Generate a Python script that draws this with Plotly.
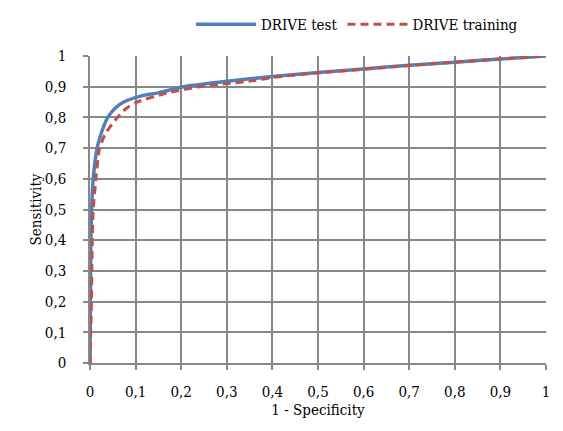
import plotly.graph_objects as go

# DRIVE test ROC curve (1 - specificity, sensitivity)
test_fpr = [0.0, 0.001, 0.002, 0.0035, 0.007, 0.0156, 0.025, 0.039, 0.055, 0.074, 0.113, 0.15, 0.205, 0.3, 0.4, 0.5, 0.6, 0.7, 0.8, 0.9, 1.0]
test_tpr = [0.0, 0.2, 0.4, 0.5, 0.6, 0.7, 0.75, 0.8, 0.83, 0.85, 0.87, 0.88, 0.9, 0.918, 0.933, 0.946, 0.958, 0.97, 0.98, 0.99, 1.0]

# DRIVE training ROC curve
train_fpr = [0.0, 0.003, 0.005, 0.007, 0.013, 0.021, 0.035, 0.06, 0.08, 0.103, 0.17, 0.24, 0.3, 0.36, 0.4, 0.5, 0.6, 0.7, 0.8, 0.9, 1.0]
train_tpr = [0.0, 0.2, 0.4, 0.5, 0.6, 0.7, 0.75, 0.8, 0.83, 0.85, 0.88, 0.9, 0.91, 0.92, 0.93, 0.945, 0.957, 0.969, 0.98, 0.99, 1.0]

x_ticks = [i / 10 for i in range(11)]
y_ticks = [i / 10 for i in range(11)]

SERIF = "DejaVu Serif Condensed, DejaVu Serif, serif"

fig = go.Figure()
fig.add_trace(go.Scatter(x=test_fpr, y=test_tpr, mode="lines", name="DRIVE test",
                         line=dict(color="#4F81BD", width=3.5, shape="spline", smoothing=0.6)))
fig.add_trace(go.Scatter(x=train_fpr, y=train_tpr, mode="lines", name="DRIVE training",
                         line=dict(color="#C0504D", width=3, dash="8px,5px", shape="spline", smoothing=0.6)))

axis_common = dict(
    range=[0, 1], showgrid=True, gridcolor="#888888", gridwidth=1.5,
    showline=True, linecolor="#888888", linewidth=1.5,
    ticks="outside", ticklen=5, tickcolor="#888888", tickwidth=1.5,
    zeroline=False, automargin=False,
    tickfont=dict(family=SERIF, size=15, color="black"),
)

fig.update_layout(
    width=563, height=431,
    margin=dict(l=82, r=25, t=48, b=76, autoexpand=False),
    paper_bgcolor="white", plot_bgcolor="white",
    separators=", ",
    font=dict(family=SERIF, size=15, color="black"),
    xaxis=dict(axis_common, tickvals=x_ticks, ticklabelstandoff=9,
               title=dict(text="1 - Specificity", standoff=0, font=dict(family=SERIF, size=15))),
    yaxis=dict(axis_common, tickvals=y_ticks, ticklabelstandoff=14,
               title=dict(text="Sensitivity", standoff=0, font=dict(family=SERIF, size=15))),
    legend=dict(orientation="h", x=0.325, y=1.0, xanchor="left", yanchor="top",
                xref="container", yref="container",
                font=dict(family=SERIF, size=15), itemwidth=60),
    showlegend=True,
)

fig.write_html("out.html")
